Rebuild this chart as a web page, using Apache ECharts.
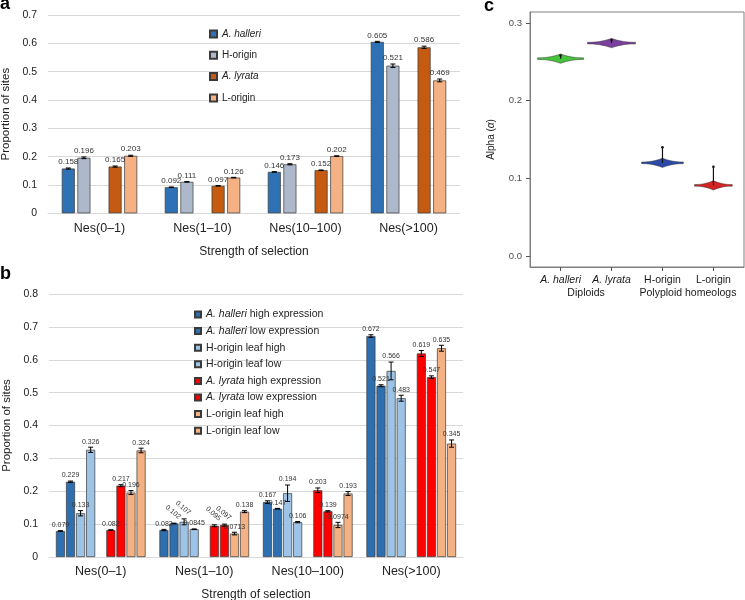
<!DOCTYPE html>
<html><head><meta charset="utf-8">
<script src="https://cdn.jsdelivr.net/npm/echarts@6/dist/echarts.min.js"></script>
<style>html,body{margin:0;padding:0;background:#fff}#c{width:745px;height:600px}</style>
</head><body><div id="c"></div>
<script>
// ---------- shared ----------
const categories = ['Nes(0–1)', 'Nes(1–10)', 'Nes(10–100)', 'Nes(>100)'];

// ---------- panel a ----------
const aNames = ['A. halleri', 'H-origin', 'A. lyrata', 'L-origin'];
const aHalleri = [0.158, 0.092, 0.146, 0.605];
const aHOrigin = [0.196, 0.111, 0.173, 0.521];
const aLyrata  = [0.165, 0.097, 0.152, 0.586];
const aLOrigin = [0.203, 0.126, 0.202, 0.469];
const aHalleriErr = [0.002, 0.001, 0.001, 0.002];
const aHOriginErr = [0.003, 0.001, 0.002, 0.006];
const aLyrataErr  = [0.002, 0.001, 0.001, 0.004];
const aLOriginErr = [0.002, 0.001, 0.001, 0.005];
const aTicks = [0, 0.1, 0.2, 0.3, 0.4, 0.5, 0.6, 0.7];

// ---------- panel b ----------
const bNames = ['A. halleri high expression', 'A. halleri low expression', 'H-origin leaf high', 'H-origin leaf low',
                'A. lyrata high expression', 'A. lyrata low expression', 'L-origin leaf high', 'L-origin leaf low'];
const bHalleriHigh = [0.079, 0.082, 0.167, 0.672];
const bHalleriLow  = [0.229, 0.102, 0.147, 0.521];
const bHLeafHigh   = [0.133, 0.107, 0.194, 0.566];
const bHLeafLow    = [0.326, 0.0845, 0.106, 0.483];
const bLyrataHigh  = [0.082, 0.095, 0.203, 0.619];
const bLyrataLow   = [0.217, 0.097, 0.139, 0.547];
const bLLeafHigh   = [0.196, 0.0713, 0.0974, 0.635];
const bLLeafLow    = [0.324, 0.138, 0.193, 0.345];
const bHalleriHighErr = [0.001, 0.002, 0.004, 0.004];
const bHalleriLowErr  = [0.002, 0.001, 0.001, 0.003];
const bHLeafHighErr   = [0.008, 0.009, 0.025, 0.027];
const bHLeafLowErr    = [0.008, 0.001, 0.002, 0.009];
const bLyrataHighErr  = [0.001, 0.003, 0.007, 0.009];
const bLyrataLowErr   = [0.003, 0.003, 0.002, 0.004];
const bLLeafHighErr   = [0.006, 0.004, 0.008, 0.009];
const bLLeafLowErr    = [0.007, 0.003, 0.006, 0.011];
const bTicks = [0, 0.1, 0.2, 0.3, 0.4, 0.5, 0.6, 0.7, 0.8];

// ---------- panel c ----------
const cNames = ['A. halleri', 'A. lyrata', 'H-origin', 'L-origin'];
const cGroups = ['Diploids', 'Polyploid homeologs'];
const alphaCenter = [0.254, 0.274, 0.120, 0.091];
const alphaLow    = [0.249, 0.269, 0.115, 0.086];
const alphaHigh   = [0.259, 0.279, 0.125, 0.096];
const alphaMax    = [0.258, 0.278, 0.140, 0.115];
const violinHalfWidth = [0.45, 0.47, 0.41, 0.37];
const cTicks = [0, 0.1, 0.2, 0.3];

// ---------- styles ----------
const FONT = 'Liberation Sans, Arial, sans-serif';
const aColors = ['#2e72b5', '#adb9ca', '#c55a11', '#f4b183'];
const bColors = ['#2e6fb0', '#2e6fb0', '#9dc3e6', '#9dc3e6', '#ff0000', '#ff0000', '#f4b183', '#f4b183'];
const cColors = ['#47c23d', '#7b3f9d', '#2b4aa8', '#d42323'];
const bRotated = [[1, 1], [2, 1], [4, 1], [5, 1]]; // [seriesIdx, categoryIdx] labels drawn slanted

const aVals = [aHalleri, aHOrigin, aLyrata, aLOrigin];
const aErrs = [aHalleriErr, aHOriginErr, aLyrataErr, aLOriginErr];
const bVals = [bHalleriHigh, bHalleriLow, bHLeafHigh, bHLeafLow, bLyrataHigh, bLyrataLow, bLLeafHigh, bLLeafLow];
const bErrs = [bHalleriHighErr, bHalleriLowErr, bHLeafHighErr, bHLeafLowErr, bLyrataHighErr, bLyrataLowErr, bLLeafHighErr, bLLeafLowErr];

const italicFmt = name => name.replace(/^(A\. \w+)/, '{i|$1}');

function barSeries(names, vals, colors, axisIdx, bw, gap) {
  const out = [];
  const half = names.length / 2;
  names.forEach((n, i) => {
    if (i === half) {
      out.push({ type: 'bar', name: '_spacer' + axisIdx, xAxisIndex: axisIdx, yAxisIndex: axisIdx,
        data: categories.map(() => null), barWidth: bw, barGap: gap });
    }
    out.push({ type: 'bar', name: n, xAxisIndex: axisIdx, yAxisIndex: axisIdx, data: vals[i],
      barWidth: bw, barGap: gap,
      itemStyle: { color: colors[i], borderColor: '#3a3a3a', borderWidth: 0.7 } });
  });
  return out;
}

function errSeries(vals, errs, axisIdx, bw, gapPct, cap, fontSize, rotated) {
  const n = vals.length;
  const nSlots = n + 1;
  const data = [];
  vals.forEach((arr, s) => {
    arr.forEach((v, c) => {
      const slot = s < n / 2 ? s : s + 1;
      const rot = rotated.some(r => r[0] === s && r[1] === c) ? 1 : 0;
      data.push([categories[c], slot, v, errs[s][c], rot]);
    });
  });
  const step = bw * (1 + gapPct);
  return {
    type: 'custom', xAxisIndex: axisIdx, yAxisIndex: axisIdx, z: 5, silent: true, clip: false,
    encode: { x: 0, y: 2 },
    data,
    renderItem(params, api) {
      const cat = api.value(0), slot = api.value(1), v = api.value(2), e = api.value(3), rot = api.value(4);
      const x = api.coord([cat, 0])[0] + (slot - (nSlots - 1) / 2) * step;
      const yt = api.coord([cat, v + e])[1];
      const yb = api.coord([cat, v - e])[1];
      const st = { stroke: '#000', lineWidth: 1 };
      const txt = String(v);
      const text = rot
        ? { type: 'text', x: x - 1, y: yt - 11, rotation: -0.7,
            style: { text: txt, fontSize: fontSize, fontFamily: FONT, fill: '#333', align: 'center', verticalAlign: 'middle' } }
        : { type: 'text', x: x, y: yt - 2,
            style: { text: txt, fontSize: fontSize, fontFamily: FONT, fill: '#333', align: 'center', verticalAlign: 'bottom' } };
      return { type: 'group', children: [
        { type: 'line', shape: { x1: x, y1: yt, x2: x, y2: yb }, style: st },
        { type: 'line', shape: { x1: x - cap, y1: yt, x2: x + cap, y2: yt }, style: st },
        { type: 'line', shape: { x1: x - cap, y1: yb, x2: x + cap, y2: yb }, style: st },
        text
      ] };
    }
  };
}

const violinData = cNames.map((n, i) => [i + 1, alphaCenter[i], alphaLow[i], alphaHigh[i], alphaMax[i], violinHalfWidth[i]]);

const violinSeries = {
  type: 'custom', xAxisIndex: 2, yAxisIndex: 2, silent: true, z: 5,
  encode: { x: 0, y: 1 },
  data: violinData,
  renderItem(params, api) {
    const xv = api.value(0), c = api.value(1), lo = api.value(2), hi = api.value(3), mx = api.value(4), hw = api.value(5);
    const p = api.coord([xv, c]);
    const cx = p[0], cy = p[1];
    const w = api.size([hw, 0])[0];
    const hUp = cy - api.coord([xv, hi])[1];
    const hDn = api.coord([xv, lo])[1] - cy;
    const pts = [];
    const N = 40;
    for (let k = 0; k <= N; k++) {
      const t = -1 + 2 * k / N; const f = Math.pow(1 - Math.abs(t), 2.2);
      pts.push([cx + t * w, cy - (hUp * f + 0.8)]);
    }
    for (let k = N; k >= 0; k--) {
      const t = -1 + 2 * k / N; const f = Math.pow(1 - Math.abs(t), 2.2);
      pts.push([cx + t * w, cy + (hDn * f + 0.8)]);
    }
    const yMax = api.coord([xv, mx])[1];
    return { type: 'group', children: [
      { type: 'polygon', shape: { points: pts }, style: { fill: cColors[params.dataIndex], stroke: '#333', lineWidth: 0.5 } },
      { type: 'line', shape: { x1: cx, y1: cy, x2: cx, y2: yMax }, style: { stroke: '#111', lineWidth: 1.2 } },
      { type: 'circle', shape: { cx: cx, cy: yMax, r: 1.3 }, style: { fill: '#111' } }
    ] };
  }
};

const letter = (t, left, top) => ({ text: t, left, top, padding: 0,
  textStyle: { fontSize: 18, fontWeight: 'bold', color: '#000', fontFamily: FONT } });

const barYAxis = (gi, max, ticks, gap) => ({
  type: 'value', gridIndex: gi, min: 0, max: max, interval: 0.1,
  name: 'Proportion of sites', nameLocation: 'middle', nameGap: gap,
  nameTextStyle: { fontSize: 11.5, color: '#222', fontFamily: FONT },
  axisLine: { show: false }, axisTick: { show: false },
  axisLabel: { fontSize: 10.5, color: '#222', margin: 11, fontFamily: FONT,
    customValues: ticks, formatter: v => String(Math.round(v * 10) / 10) },
  splitLine: { show: true, lineStyle: { color: '#d9d9d9', width: 1 } }
});
const barXAxis = (gi, margin, nameGap) => ({
  type: 'category', gridIndex: gi, data: categories,
  name: 'Strength of selection', nameLocation: 'middle', nameGap: nameGap,
  nameTextStyle: { fontSize: 12, color: '#222', fontFamily: FONT },
  axisLine: { show: true, lineStyle: { color: '#d9d9d9' } }, axisTick: { show: false },
  axisLabel: { fontSize: 12.5, color: '#222', margin: margin, fontFamily: FONT }
});

const option = {
  animation: false,
  textStyle: { fontFamily: FONT },
  title: [letter('a', 0, -5), letter('b', 0, 265), letter('c', 484, -3)],
  legend: [
    { data: aNames, orient: 'vertical', left: 204, top: 23, itemWidth: 7, itemHeight: 7, itemGap: 9.3,
      icon: 'rect', formatter: italicFmt,
      textStyle: { fontSize: 10, lineHeight: 12, color: '#222', fontFamily: FONT,
        rich: { i: { fontStyle: 'italic', fontSize: 10, color: '#222', fontFamily: FONT } } } },
    { data: bNames, orient: 'vertical', left: 189, top: 303.5, itemWidth: 6, itemHeight: 6, itemGap: 4.6,
      icon: 'rect', formatter: italicFmt,
      textStyle: { fontSize: 10.5, lineHeight: 12, color: '#222', fontFamily: FONT,
        rich: { i: { fontStyle: 'italic', fontSize: 10.5, color: '#222', fontFamily: FONT } } } }
  ],
  grid: [
    { left: 48, top: 15, width: 412, height: 198.3, outerBoundsMode: 'none' },
    { left: 49, top: 294, width: 414, height: 263, outerBoundsMode: 'none' },
    { left: 530, top: 12, width: 214, height: 255, show: true, borderColor: '#7f7f7f', borderWidth: 1, outerBoundsMode: 'none' }
  ],
  xAxis: [
    barXAxis(0, 9, 32),
    barXAxis(1, 8, 32),
    { type: 'value', gridIndex: 2, min: 0.4, max: 4.6, position: 'bottom',
      axisLine: { show: true, onZero: false, lineStyle: { color: '#7f7f7f' } }, splitLine: { show: false },
      axisTick: { show: true, inside: false, customValues: [1, 2, 3, 4], length: 4, lineStyle: { color: '#555' } },
      axisLabel: { customValues: [1, 2, 3, 4], margin: 8, fontSize: 10.5, color: '#1a1a1a', fontFamily: FONT,
        formatter: v => italicFmt(cNames[Math.round(v) - 1] || ''),
        rich: { i: { fontStyle: 'italic', fontSize: 10.5, color: '#1a1a1a', fontFamily: FONT } } } },
    { type: 'value', gridIndex: 2, min: 0.4, max: 4.6, position: 'bottom', offset: 13,
      axisLine: { show: false, onZero: false }, splitLine: { show: false }, axisTick: { show: false },
      axisLabel: { customValues: [1.5, 3.5], margin: 8, fontSize: 10.5, color: '#1a1a1a', fontFamily: FONT,
        formatter: v => (v < 2.5 ? cGroups[0] : cGroups[1]) } }
  ],
  yAxis: [
    barYAxis(0, 0.7, aTicks, 31),
    barYAxis(1, 0.8, bTicks, 33),
    { type: 'value', gridIndex: 2, min: -0.014, max: 0.314,
      name: 'Alpha ({i|α})', nameLocation: 'middle', nameGap: 34,
      nameTextStyle: { fontSize: 10, color: '#1a1a1a', fontFamily: FONT,
        rich: { i: { fontStyle: 'italic', fontSize: 10, color: '#1a1a1a', fontFamily: FONT } } },
      axisLine: { show: true, onZero: false, lineStyle: { color: '#7f7f7f' } }, splitLine: { show: false },
      axisTick: { show: true, inside: false, customValues: cTicks, length: 4, lineStyle: { color: '#555' } },
      axisLabel: { customValues: cTicks, margin: 8, fontSize: 9.5, color: '#4d4d4d', fontFamily: FONT,
        formatter: v => v.toFixed(1) } }
  ],
  series: [
    ...barSeries(aNames, aVals, aColors, 0, 13, '20%'),
    errSeries(aVals, aErrs, 0, 13, 0.2, 2.5, 8, []),
    ...barSeries(bNames, bVals, bColors, 1, 9, '12%'),
    errSeries(bVals, bErrs, 1, 9, 0.12, 2.5, 7, bRotated),
    violinSeries
  ]
};

const chart = echarts.init(document.getElementById('c'), null, { renderer: 'canvas' });
chart.setOption(option);
</script>
</body></html>
